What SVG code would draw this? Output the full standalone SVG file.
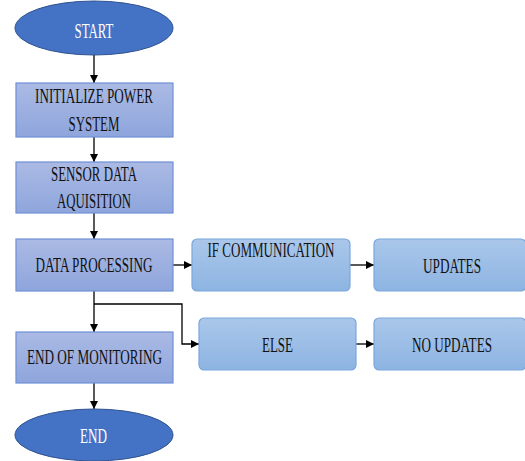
<svg xmlns="http://www.w3.org/2000/svg" width="525" height="461" viewBox="0 0 525 461">
<defs>
<linearGradient id="gL" x1="0" y1="0" x2="0" y2="1"><stop offset="0" stop-color="#abbae4"/><stop offset="1" stop-color="#8ea5dc"/></linearGradient>
<linearGradient id="gR" x1="0" y1="0" x2="0" y2="1"><stop offset="0" stop-color="#aac7ea"/><stop offset="1" stop-color="#8db4e2"/></linearGradient>
<marker id="ah" markerWidth="8" markerHeight="8" refX="8" refY="4" orient="auto" markerUnits="userSpaceOnUse"><path d="M0,0 L8,4 L0,8 Z" fill="#000"/></marker>
</defs>
<style>
.ell{fill:#4472c4;stroke:#2f528f;stroke-width:1}
.bl{fill:url(#gL);stroke:#6f8fd8;stroke-width:1.2}
.br{fill:url(#gR);stroke:#7aa7dc;stroke-width:1.2}
.t{font-family:"Liberation Serif","Times New Roman",serif;font-size:21px;fill:#111;text-anchor:middle}
.w{fill:#fff}
.c{fill:none;stroke:#000;stroke-width:1.3}
</style>
<rect width="525" height="461" fill="#fff"/>
<g id="connectors">
<line class="c" x1="94" y1="54" x2="94" y2="83" marker-end="url(#ah)"/>
<line class="c" x1="94" y1="137" x2="94" y2="162" marker-end="url(#ah)"/>
<line class="c" x1="94" y1="213" x2="94" y2="239" marker-end="url(#ah)"/>
<line class="c" x1="173" y1="265" x2="192" y2="265" marker-end="url(#ah)"/>
<line class="c" x1="350" y1="265" x2="374" y2="265" marker-end="url(#ah)"/>
<line class="c" x1="94" y1="291" x2="94" y2="332" marker-end="url(#ah)"/>
<polyline class="c" points="94,304 182,304 182,344 199,344" marker-end="url(#ah)"/>
<line class="c" x1="356" y1="344" x2="374" y2="344" marker-end="url(#ah)"/>
<line class="c" x1="94" y1="383" x2="94" y2="409" marker-end="url(#ah)"/>
</g>
<g id="start"><ellipse class="ell" cx="94" cy="28" rx="79" ry="27"/><text class="t w" x="94" y="38" textLength="39" lengthAdjust="spacingAndGlyphs">START</text></g>
<g id="init"><rect class="bl" x="16" y="83" width="157" height="54"/><text class="t" x="94" y="103" textLength="118" lengthAdjust="spacingAndGlyphs">INITIALIZE POWER</text><text class="t" x="94" y="131" textLength="51" lengthAdjust="spacingAndGlyphs">SYSTEM</text></g>
<g id="sensor"><rect class="bl" x="16" y="162" width="157" height="51"/><text class="t" x="94" y="181" textLength="86" lengthAdjust="spacingAndGlyphs">SENSOR DATA</text><text class="t" x="94" y="208" textLength="74" lengthAdjust="spacingAndGlyphs">AQUISITION</text></g>
<g id="processing"><rect class="bl" x="16" y="239" width="157" height="52"/><text class="t" x="94" y="272" textLength="117" lengthAdjust="spacingAndGlyphs">DATA PROCESSING</text></g>
<g id="ifcomm"><rect class="br" x="192" y="239" width="158" height="52" rx="5"/><text class="t" x="271" y="257" textLength="127" lengthAdjust="spacingAndGlyphs">IF COMMUNICATION</text></g>
<g id="updates"><rect class="br" x="374" y="239" width="152" height="52" rx="5"/><text class="t" x="452" y="273" textLength="58" lengthAdjust="spacingAndGlyphs">UPDATES</text></g>
<g id="else"><rect class="br" x="199" y="318" width="157" height="52" rx="5"/><text class="t" x="277.5" y="352" textLength="31" lengthAdjust="spacingAndGlyphs">ELSE</text></g>
<g id="noupdates"><rect class="br" x="374" y="318" width="152" height="52" rx="5"/><text class="t" x="452" y="352" textLength="80" lengthAdjust="spacingAndGlyphs">NO UPDATES</text></g>
<g id="endmon"><rect class="bl" x="16" y="332" width="157" height="51"/><text class="t" x="94.5" y="364" textLength="135" lengthAdjust="spacingAndGlyphs">END OF MONITORING</text></g>
<g id="end"><ellipse class="ell" cx="94" cy="435" rx="79" ry="26"/><text class="t w" x="93.5" y="443" textLength="27" lengthAdjust="spacingAndGlyphs">END</text></g>
</svg>
